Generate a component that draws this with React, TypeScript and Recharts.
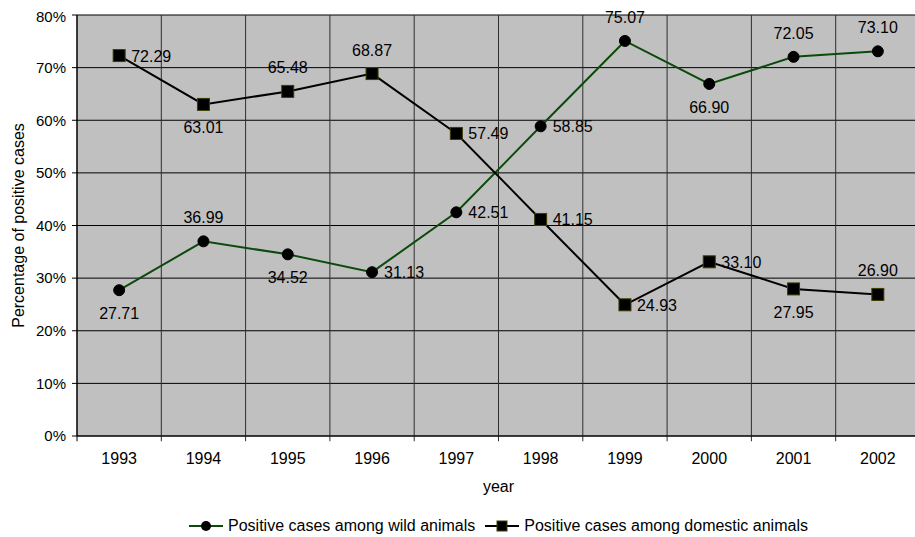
import React from 'react'
import {
  LineChart,
  Line,
  XAxis,
  YAxis,
  CartesianGrid,
  ReferenceLine,
  LabelList,
  Legend
} from 'recharts'

const years = ['1993', '1994', '1995', '1996', '1997', '1998', '1999', '2000', '2001', '2002']
const wildCases = [27.71, 36.99, 34.52, 31.13, 42.51, 58.85, 75.07, 66.9, 72.05, 73.1]
const domesticCases = [72.29, 63.01, 65.48, 68.87, 57.49, 41.15, 24.93, 33.1, 27.95, 26.9]
const percentTicks = [0, 10, 20, 30, 40, 50, 60, 70, 80]

// where each data label sits relative to its point
const wildLabelSide = ['below', 'above', 'below', 'right', 'right', 'right', 'above', 'below', 'above', 'above']
const domesticLabelSide = ['right', 'below', 'above', 'above', 'right', 'right', 'right', 'right', 'below', 'above']

const FONT = '"Liberation Sans", Arial, sans-serif'
const WILD_COLOR = '#0b4a0b'
const SQUARE_EDGE = '#3d3d00'
const TICK_DEPTH = -1 // grid lines run one percent below the axis to form the tick marks
const Y_AXIS_WIDTH = 69

const data = years.map((year, i) => ({
  x: i,
  year,
  wild: wildCases[i],
  domestic: domesticCases[i]
}))

const boundaries = years.map((_, i) => i - 0.5)

function makeLabel(sides: string[]) {
  return (props: any) => {
    const { x, y, index, value } = props
    const side = sides[index]
    const text = Number(value).toFixed(2)
    let tx = x
    let ty = y
    let anchor: 'start' | 'middle' = 'middle'
    if (side === 'above') ty = y - 18
    else if (side === 'below') ty = y + 29
    else {
      tx = x + 12
      ty = y + 6
      anchor = 'start'
    }
    return (
      <text x={tx} y={ty} textAnchor={anchor} fontSize={16} fontFamily={FONT} fill="#000">
        {text}
      </text>
    )
  }
}

function SquareDot(props: any) {
  const { cx, cy } = props
  if (cx == null || cy == null) return null
  return <rect x={cx - 6} y={cy - 6} width={12} height={12} fill="#000" stroke={SQUARE_EDGE} strokeWidth={1} />
}

function LegendContent() {
  const item = (kind: 'circle' | 'square', color: string, label: string, gap: number) => (
    <span style={{ display: 'inline-flex', alignItems: 'center', marginRight: gap }}>
      <svg width={34} height={12} style={{ marginRight: 5 }}>
        <line x1={0} y1={6} x2={34} y2={6} stroke={color} strokeWidth={2} />
        {kind === 'circle' ? (
          <circle cx={17} cy={6} r={5} fill="#000" />
        ) : (
          <rect x={12} y={1} width={10} height={10} fill="#000" stroke={SQUARE_EDGE} />
        )}
      </svg>
      <span>{label}</span>
    </span>
  )
  return (
    <div
      style={{
        height: 41,
        paddingTop: 19,
        paddingLeft: Y_AXIS_WIDTH,
        boxSizing: 'border-box',
        display: 'flex',
        justifyContent: 'center',
        fontFamily: FONT,
        fontSize: 16,
        lineHeight: '16px',
        color: '#000'
      }}
    >
      {item('circle', WILD_COLOR, 'Positive cases among wild animals', 10)}
      {item('square', '#000', 'Positive cases among domestic animals', 0)}
    </div>
  )
}

export default function App() {
  return (
    <div style={{ width: 912, height: 529 }}>
      <style>{'html, body { overflow: hidden; } body { margin: 8px 0 0 8px; } #root { width: 912px; }'}</style>
      <LineChart width={912} height={529} data={data} margin={{ top: 7, right: 0, bottom: 0, left: 0 }}>
        <CartesianGrid vertical={false} stroke="#000" fill="#c0c0c0" fillOpacity={1} />
        {boundaries.map((b) => (
          <ReferenceLine
            key={b}
            segment={[
              { x: b, y: 80 },
              { x: b, y: TICK_DEPTH }
            ]}
            stroke={b < 0 ? '#000' : '#2e2e2e'}
            strokeWidth={1}
            ifOverflow="visible"
          />
        ))}
        <XAxis
          dataKey="x"
          type="number"
          domain={[-0.5, 9.5]}
          ticks={years.map((_, i) => i)}
          tickFormatter={(v: number) => years[v]}
          allowDataOverflow
          height={60}
          tickLine={false}
          tickSize={6}
          tickMargin={11}
          axisLine={{ stroke: '#000' }}
          tick={{ fill: '#000', fontSize: 16, fontFamily: FONT }}
          label={{ value: 'year', position: 'insideBottom', offset: 4, fill: '#000', fontSize: 16, fontFamily: FONT }}
        />
        <YAxis
          type="number"
          domain={[0, 80]}
          ticks={percentTicks}
          tickFormatter={(v: number) => `${v}%`}
          width={Y_AXIS_WIDTH}
          tickSize={5}
          tickMargin={6}
          tickLine={{ stroke: '#000' }}
          axisLine={{ stroke: '#000' }}
          tick={{ fill: '#000', fontSize: 15, fontFamily: FONT }}
          label={{
            value: 'Percentage of positive cases',
            angle: -90,
            position: 'insideLeft',
            offset: 10,
            style: { textAnchor: 'middle' },
            fill: '#000',
            fontSize: 16,
            fontFamily: FONT
          }}
        />
        <Legend verticalAlign="bottom" height={41} content={<LegendContent />} />
        <Line
          dataKey="wild"
          stroke={WILD_COLOR}
          strokeWidth={2}
          dot={{ r: 5.5, fill: '#000', stroke: '#000', strokeWidth: 1 }}
          isAnimationActive={false}
        >
          <LabelList dataKey="wild" content={makeLabel(wildLabelSide)} />
        </Line>
        <Line
          dataKey="domestic"
          stroke="#000"
          strokeWidth={2}
          dot={<SquareDot />}
          isAnimationActive={false}
        >
          <LabelList dataKey="domestic" content={makeLabel(domesticLabelSide)} />
        </Line>
      </LineChart>
    </div>
  )
}
